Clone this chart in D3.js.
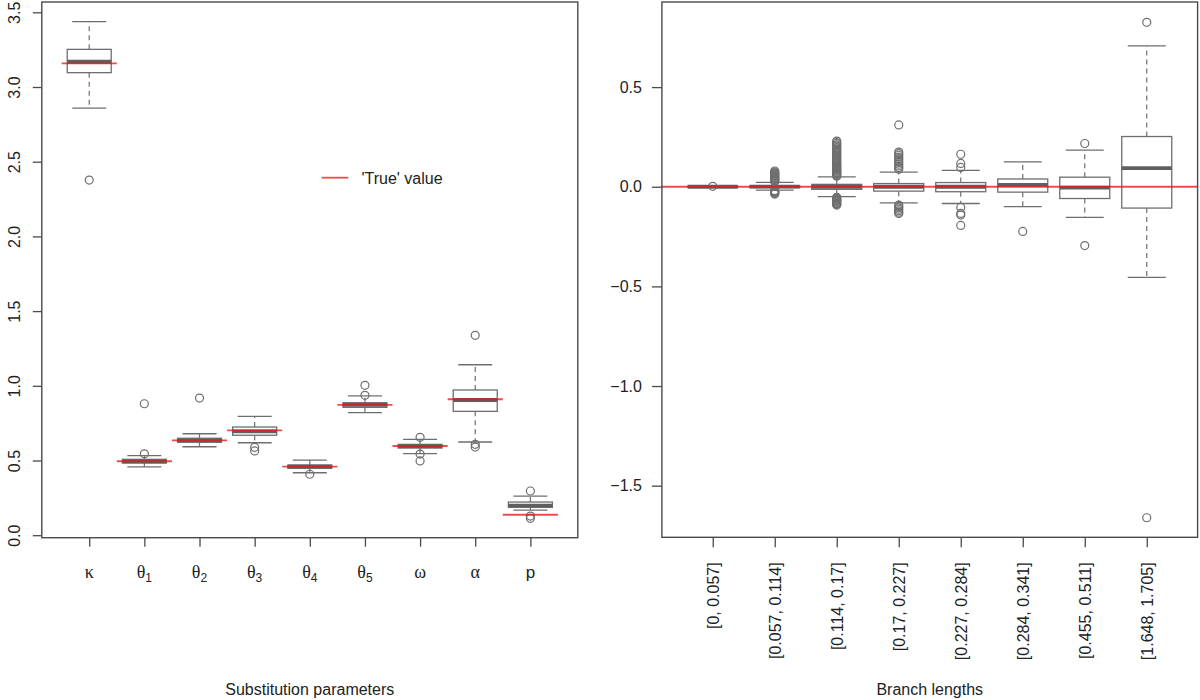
<!DOCTYPE html>
<html><head><meta charset="utf-8">
<script src="https://cdn.jsdelivr.net/npm/d3@7"></script>
<style>
body{margin:0;background:#fff;}
text{font-family:"Liberation Sans",Arial,sans-serif;}
</style></head>
<body><svg id="c" width="1200" height="700"></svg>
<script>
// ---------- Left panel: substitution parameters ----------
const leftSymbols = ["κ","θ","θ","θ","θ","θ","ω","α","p"];
const leftSubs    = ["","1","2","3","4","5","","",""];
const leftLowW  = [2.859, 0.458, 0.592, 0.619, 0.418, 0.820, 0.546, 0.624, 0.168];
const leftQ1    = [3.096, 0.483, 0.622, 0.669, 0.448, 0.856, 0.584, 0.829, 0.187];
const leftMed   = [3.169, 0.494, 0.635, 0.695, 0.459, 0.872, 0.594, 0.905, 0.198];
const leftQ3    = [3.252, 0.508, 0.649, 0.724, 0.470, 0.887, 0.608, 0.972, 0.222];
const leftHighW = [3.437, 0.532, 0.679, 0.796, 0.503, 0.932, 0.642, 1.141, 0.262];
const leftOut   = [[2.377],[0.880,0.545],[0.918],[0.588,0.564],[0.408],[1.003,0.936],[0.655,0.543,0.497],[1.338,0.608,0.590],[0.296,0.128,0.113]];
const leftTrue  = [3.158, 0.495, 0.635, 0.702, 0.459, 0.873, 0.597, 0.910, 0.137];
const leftYTicks = [0,0.5,1,1.5,2,2.5,3,3.5];
const leftYLabels = ["0.0","0.5","1.0","1.5","2.0","2.5","3.0","3.5"];

// ---------- Right panel: branch lengths ----------
const rightCats = ["[0, 0.057]","[0.057, 0.114]","[0.114, 0.17]","[0.17, 0.227]","[0.227, 0.284]","[0.284, 0.341]","[0.455, 0.511]","[1.648, 1.705]"];
const rightLowW  = [-0.003, -0.017, -0.050, -0.081, -0.084, -0.100, -0.154, -0.455];
const rightQ1    = [-0.002, -0.004, -0.013, -0.022, -0.025, -0.027, -0.059, -0.107];
const rightMed   = [ 0.000,  0.001,  0.000,  0.000,  0.000,  0.009, -0.004,  0.093];
const rightQ3    = [ 0.002,  0.004,  0.012,  0.016,  0.021,  0.039,  0.048,  0.252];
const rightHighW = [ 0.003,  0.022,  0.050,  0.073,  0.082,  0.125,  0.184,  0.707];
const rightOut = [
  [0.002],
  [0.025,0.029,0.031,0.036,0.040,0.043,0.047,0.052,0.055,0.058,0.063,0.066,0.070,0.074,0.079,
   -0.019,-0.023,-0.026,-0.029,-0.033,-0.037],
  [0.053,0.057,0.062,0.065,0.070,0.073,0.078,0.082,0.087,0.091,0.096,0.101,0.104,0.109,0.114,0.119,
   0.125,0.131,0.136,0.142,0.148,0.153,0.159,0.166,0.171,0.177,0.184,0.189,0.197,0.204,0.210,0.217,0.222,0.229,
   -0.053,-0.057,-0.061,-0.064,-0.069,-0.072,-0.077,-0.081,-0.085,-0.088,-0.092],
  [0.310,0.174,0.166,0.158,0.149,0.141,0.132,0.122,0.113,0.104,0.096,0.088,
   -0.092,-0.099,-0.106,-0.113,-0.121,-0.128,-0.134],
  [0.163,0.117,0.097,-0.104,-0.134,-0.142,-0.194],
  [-0.224],
  [0.217,-0.295],
  [0.825,-1.661]
];
const rightTrue = 0;
const rightYTicks = [-1.5,-1,-0.5,0,0.5];
const rightYLabels = ["\u22121.5","\u22121.0","\u22120.5","0.0","0.5"];

const svg = d3.select("#c");
const BOX = "#6e6e6e", MED = "#5f5f5f", FRAME = "#4a4a4a", RED = "rgba(228,26,28,0.78)";

function drawBoxes(g, x, y, n, lowW, q1, med, q3, highW, outs, halfW, capHalf){
  for(let i=0;i<n;i++){
    const cx = x(i+1);
    // whiskers dashed
    g.append("line").attr("x1",cx).attr("x2",cx).attr("y1",y(q3[i])).attr("y2",y(highW[i]))
      .attr("stroke",BOX).attr("stroke-width",1.2).attr("stroke-dasharray","5,4");
    g.append("line").attr("x1",cx).attr("x2",cx).attr("y1",y(q1[i])).attr("y2",y(lowW[i]))
      .attr("stroke",BOX).attr("stroke-width",1.2).attr("stroke-dasharray","5,4");
    // caps
    [lowW[i],highW[i]].forEach(v=>{
      g.append("line").attr("x1",cx-capHalf).attr("x2",cx+capHalf).attr("y1",y(v)).attr("y2",y(v))
        .attr("stroke",BOX).attr("stroke-width",1.3);
    });
    // box
    g.append("rect").attr("x",cx-halfW).attr("width",2*halfW)
      .attr("y",y(q3[i])).attr("height",Math.max(0.5,y(q1[i])-y(q3[i])))
      .attr("fill","#fff").attr("stroke",BOX).attr("stroke-width",1.3);
    // median
    g.append("line").attr("x1",cx-halfW).attr("x2",cx+halfW).attr("y1",y(med[i])).attr("y2",y(med[i]))
      .attr("stroke",MED).attr("stroke-width",3.8);
    // outliers
    outs[i].forEach(v=>{
      g.append("circle").attr("cx",cx).attr("cy",y(v)).attr("r",4)
        .attr("fill","none").attr("stroke",BOX).attr("stroke-width",1.2);
    });
  }
}

// ===== LEFT =====
{
  const L=41.8, R=577.8, T=2, B=537.7;
  const x = d3.scaleLinear().domain([0.14, 9.86]).range([L,R]);
  const y = d3.scaleLinear().domain([-0.0167, 3.569]).range([B,T]);
  const g = svg.append("g");
  drawBoxes(g, x, y, 9, leftLowW, leftQ1, leftMed, leftQ3, leftHighW, leftOut, 22, 17);
  leftTrue.forEach((v,i)=>{
    g.append("line").attr("x1",x(i+0.5)).attr("x2",x(i+1.5)).attr("y1",y(v)).attr("y2",y(v))
      .attr("stroke",RED).attr("stroke-width",1.8);
  });
  // frame
  svg.append("rect").attr("x",L).attr("y",T).attr("width",R-L).attr("height",B-T)
    .attr("fill","none").attr("stroke",FRAME).attr("stroke-width",1.4);
  // y axis
  const ya = svg.append("g").attr("transform",`translate(${L},0)`)
    .call(d3.axisLeft(y).tickValues(leftYTicks).tickFormat((d,i)=>leftYLabels[i]).tickSize(9));
  ya.select(".domain").remove();
  ya.selectAll(".tick line").attr("stroke",FRAME).attr("stroke-width",1.3);
  ya.selectAll(".tick text").attr("x",null).attr("dy",null).attr("text-anchor","middle")
    .attr("dominant-baseline","central").attr("transform","translate(-27,0) rotate(-90)")
    .attr("font-size",16).attr("fill","#222").style("font-family","Liberation Sans, Arial, sans-serif");
  // x axis
  const xa = svg.append("g").attr("transform",`translate(0,${B})`)
    .call(d3.axisBottom(x).tickValues(d3.range(1,10)).tickFormat("").tickSize(9));
  xa.select(".domain").remove();
  xa.selectAll(".tick line").attr("stroke",FRAME).attr("stroke-width",1.3);
  xa.selectAll(".tick text").remove();
  leftSymbols.forEach((s,i)=>{
    const isGreek = s!=="p";
    const t = svg.append("text").attr("x",x(i+1)).attr("y",578).attr("text-anchor","middle")
      .attr("fill","#222");
    t.append("tspan").text(s).attr("font-size",isGreek?18:17)
      .style("font-family",isGreek?"Liberation Serif, serif":"Liberation Sans, sans-serif");
    if(leftSubs[i]) t.append("tspan").text(leftSubs[i]).attr("font-size",12).attr("dy",4)
      .style("font-family","Liberation Sans, sans-serif");
  });
  svg.append("text").attr("x",(L+R)/2).attr("y",695).attr("text-anchor","middle")
    .attr("font-size",16).attr("fill","#222").text("Substitution parameters");
  // legend
  svg.append("line").attr("x1",321.7).attr("x2",348.3).attr("y1",177.7).attr("y2",177.7)
    .attr("stroke",RED).attr("stroke-width",1.8);
  svg.append("text").attr("x",361.5).attr("y",178).attr("dominant-baseline","central")
    .attr("font-size",16).attr("fill","#222").text("'True' value");
}

// ===== RIGHT =====
{
  const L=661.9, R=1197.6, T=2, B=537.3;
  const x = d3.scaleLinear().domain([0.18, 8.82]).range([L,R]);
  const y = d3.scaleLinear().domain([-1.759, 0.927]).range([B,T]);
  const g = svg.append("g");
  drawBoxes(g, x, y, 8, rightLowW, rightQ1, rightMed, rightQ3, rightHighW, rightOut, 25, 19);
  g.append("line").attr("x1",L).attr("x2",R).attr("y1",y(rightTrue)).attr("y2",y(rightTrue))
    .attr("stroke",RED).attr("stroke-width",1.8);
  svg.append("rect").attr("x",L).attr("y",T).attr("width",R-L).attr("height",B-T)
    .attr("fill","none").attr("stroke",FRAME).attr("stroke-width",1.4);
  const ya = svg.append("g").attr("transform",`translate(${L},0)`)
    .call(d3.axisLeft(y).tickValues(rightYTicks).tickFormat((d,i)=>rightYLabels[i]).tickSize(10).tickPadding(10));
  ya.select(".domain").remove();
  ya.selectAll(".tick line").attr("stroke",FRAME).attr("stroke-width",1.3);
  ya.selectAll(".tick text").attr("font-size",16).attr("fill","#222")
    .style("font-family","Liberation Sans, Arial, sans-serif");
  const xa = svg.append("g").attr("transform",`translate(0,${B})`)
    .call(d3.axisBottom(x).tickValues(d3.range(1,9)).tickFormat((d,i)=>rightCats[i]).tickSize(10));
  xa.select(".domain").remove();
  xa.selectAll(".tick line").attr("stroke",FRAME).attr("stroke-width",1.3);
  xa.selectAll(".tick text").attr("y",null).attr("dy",null).attr("x",null)
    .attr("text-anchor","end").attr("dominant-baseline","central")
    .attr("transform","translate(0,25) rotate(-90)")
    .attr("font-size",16).attr("fill","#222").style("font-family","Liberation Sans, Arial, sans-serif");
  svg.append("text").attr("x",(L+R)/2).attr("y",695).attr("text-anchor","middle")
    .attr("font-size",16).attr("fill","#222").text("Branch lengths");
}
</script></body></html>
